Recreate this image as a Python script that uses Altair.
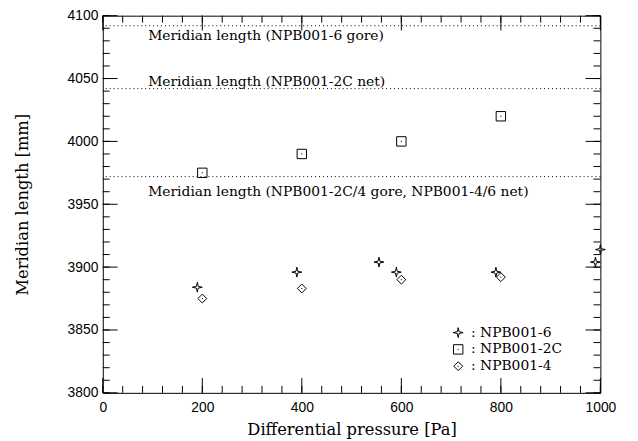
import altair as alt
import pandas as pd

# ---- data ----
series_names = ["NPB001-6", "NPB001-2C", "NPB001-4"]
p6_x = [190, 390, 555, 590, 790, 990, 1000]
p6_y = [3884, 3896, 3904, 3896, 3896, 3904, 3914]
p2c_x = [200, 400, 600, 800]
p2c_y = [3975, 3990, 4000, 4020]
p4_x = [200, 400, 600, 800]
p4_y = [3875, 3883, 3890, 3892]

ref_y = [4092, 4042, 3972]
ref_labels = [
    "Meridian length (NPB001-6 gore)",
    "Meridian length (NPB001-2C net)",
    "Meridian length (NPB001-2C/4 gore, NPB001-4/6 net)",
]
ref_dy = [14, -3, 20]

x_major = [0, 200, 400, 600, 800, 1000]
x_minor = list(range(0, 1001, 40))
y_major = [3800, 3850, 3900, 3950, 4000, 4050, 4100]
y_minor = list(range(3800, 4101, 10))

W, H = 504, 382
XD, YD = [0, 1000], [3800, 4100]

pts = pd.DataFrame(
    {
        "x": p6_x + p2c_x + p4_x,
        "y": p6_y + p2c_y + p4_y,
        "series": [series_names[0]] * len(p6_x)
        + [series_names[1]] * len(p2c_x)
        + [series_names[2]] * len(p4_x),
    }
)

xs = alt.Scale(domain=XD, nice=False, zero=False)
ys = alt.Scale(domain=YD, nice=False, zero=False)
xaxis = alt.Axis(values=x_major, format="d", title="Differential pressure [Pa]", labelFlush=False)
yaxis = alt.Axis(values=y_major, format="d", title="Meridian length [mm]", labelFlush=False)

star = "M0,-1L0.18,-0.18L1,0L0.18,0.18L0,1L-0.18,0.18L-1,0L-0.18,-0.18Z"
square = "M-1,-1L1,-1L1,1L-1,1Z M-0.12,0L0.12,0"
diamond = "M0,-1L1,0L0,1L-1,0Z M-0.12,0L0.12,0"

leg = alt.Legend(
    title=None,
    orient="none",
    legendX=353,
    legendY=314,
    labelExpr="': ' + datum.label",
    labelFont="DejaVu Serif",
    labelFontSize=14,
    labelColor="black",
    labelOffset=6,
    rowPadding=3,
    padding=0,
    symbolStrokeColor="black",
    symbolStrokeWidth=1,
)

points = alt.Chart(pts).mark_point(filled=False, color="black", strokeWidth=1, opacity=1).encode(
    x=alt.X("x:Q", scale=xs, axis=xaxis),
    y=alt.Y("y:Q", scale=ys, axis=yaxis),
    shape=alt.Shape(
        "series:N",
        scale=alt.Scale(domain=series_names, range=[star, square, diamond]),
        legend=leg,
    ),
    size=alt.Size(
        "series:N",
        scale=alt.Scale(domain=series_names, range=[100, 81, 64]),
        legend=leg,
    ),
)

ref_df = pd.DataFrame({"y": ref_y, "label": ref_labels})
ref_lines = alt.Chart(ref_df).mark_rule(color="black", strokeDash=[1, 3], strokeWidth=1).encode(
    y=alt.Y("y:Q", scale=ys, axis=yaxis)
)

texts = []
for i in range(len(ref_y)):
    d = pd.DataFrame({"y": [ref_y[i]], "label": [ref_labels[i]]})
    texts.append(
        alt.Chart(d)
        .mark_text(
            align="left",
            baseline="alphabetic",
            dy=ref_dy[i],
            font="DejaVu Serif",
            fontSize=14,
            color="black",
        )
        .encode(x=alt.value(46), y=alt.Y("y:Q", scale=ys, axis=yaxis), text="label:N")
    )


def yticks(vals, length):
    d = pd.DataFrame({"y": vals})
    left = alt.Chart(d).mark_rule(color="black", strokeWidth=1).encode(
        y=alt.Y("y:Q", scale=ys, axis=yaxis), x=alt.value(0), x2=alt.value(length)
    )
    right = alt.Chart(d).mark_rule(color="black", strokeWidth=1).encode(
        y=alt.Y("y:Q", scale=ys, axis=yaxis), x=alt.value(W), x2=alt.value(W - length)
    )
    return [left, right]


def xticks(vals, length):
    d = pd.DataFrame({"x": vals})
    bottom = alt.Chart(d).mark_rule(color="black", strokeWidth=1).encode(
        x=alt.X("x:Q", scale=xs, axis=xaxis), y=alt.value(H), y2=alt.value(H - length)
    )
    top = alt.Chart(d).mark_rule(color="black", strokeWidth=1).encode(
        x=alt.X("x:Q", scale=xs, axis=xaxis), y=alt.value(0), y2=alt.value(length)
    )
    return [bottom, top]


tick_layers = yticks(y_major, 15) + yticks(y_minor, 7) + xticks(x_major, 15) + xticks(x_minor, 7)

chart = (
    alt.layer(points, ref_lines, *texts, *tick_layers)
    .properties(
        width=W,
        height=H,
        autosize=alt.AutoSizeParams(type="none"),
        padding={"left": 96, "top": 5, "right": 30, "bottom": 46},
    )
    .configure_view(stroke="black", strokeWidth=1)
    .configure_axis(
        domain=False,
        ticks=False,
        grid=False,
        labelFont="Liberation Sans",
        labelFontSize=14,
        labelColor="black",
        titleFont="DejaVu Serif",
        titleFontSize=16.5,
        titleFontWeight="normal",
        titleColor="black",
    )
    .configure_axisY(titlePadding=37, labelPadding=5)
    .configure_axisX(titlePadding=7, labelPadding=8)
)

chart.save("out.html", embed_options={"renderer": "svg", "actions": False})
